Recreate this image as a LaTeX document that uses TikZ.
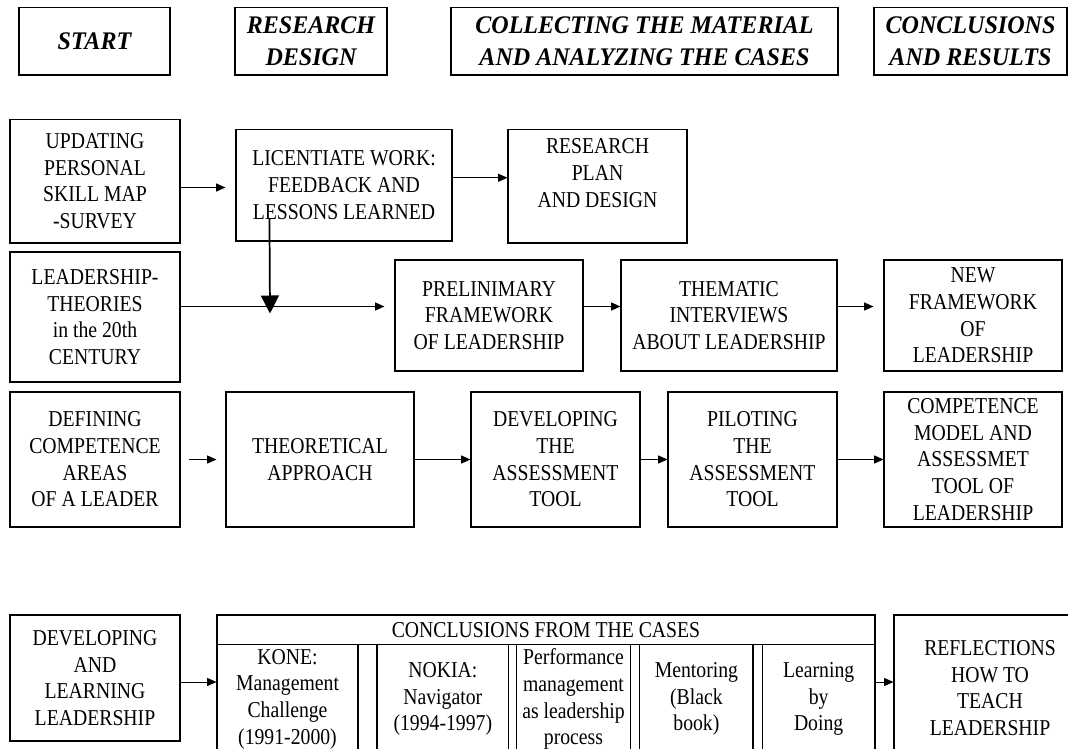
\documentclass[tikz,border=0pt]{standalone}
\usepackage{fontspec}
\setmainfont{Liberation Serif}[FakeStretch=0.87]
\newfontfamily\headfont{Liberation Serif}[FakeStretch=0.95]
\usetikzlibrary{arrows.meta,calc}

\begin{document}
\begin{tikzpicture}[x=0.75pt,y=-0.75pt,
  box/.style={draw, line width=0.8pt, inner sep=0pt, align=center, anchor=center,
    font=\fontsize{17}{20}\selectfont},
  hbox/.style={draw, line width=0.8pt, inner sep=0pt, align=center, anchor=center,
    font=\headfont\bfseries\itshape\fontsize{19}{24}\selectfont},
  sz/.style 2 args={minimum width=#1*0.75pt, minimum height=#2*0.75pt},
  arr/.style={line width=0.75pt, -{Triangle[length=7pt,width=6pt]}},
  bigarr/.style={line width=1.3pt, -{Triangle[length=13.5pt,width=13.5pt]}},
]
\useasboundingbox (0,0) rectangle (1068,749);
\begin{scope}
\clip (0,0) rectangle (1068,749);

% phase headings
\node[hbox, sz={151}{67.5}] (hstart) at (94.5,41.25) {START};
\node[hbox, sz={152}{67.5}] (hdesign) at (311,41.25) {RESEARCH\\DESIGN};
\node[hbox, sz={387}{67.5}] (hcollect) at (644.5,41.25) {COLLECTING THE MATERIAL\\AND ANALYZING THE CASES};
\node[hbox, sz={193}{67.5}] (hresults) at (970.5,41.25) {CONCLUSIONS\\AND RESULTS};

% first row
\node[box, sz={170}{123.5}] (upd) at (95,181.25) {UPDATING\\PERSONAL\\SKILL MAP\\-SURVEY};
\node[box, sz={216}{111.5}] (lic) at (344,185.25) {LICENTIATE WORK:\\FEEDBACK AND\\LESSONS LEARNED};
\node[box, sz={179}{113.5}] (plan) at (597.5,186.25) {RESEARCH\\PLAN\\AND DESIGN\\\mbox{}};

% second row
\node[box, sz={170}{130}] (lead) at (95,317) {LEADERSHIP-\\THEORIES\\in the 20th\\CENTURY};
\node[box, sz={188}{111}] (prelim) at (489,315.5) {PRELINIMARY\\FRAMEWORK\\OF LEADERSHIP};
\node[box, sz={216}{111}] (them) at (729,315.5) {THEMATIC\\INTERVIEWS\\ABOUT LEADERSHIP};
\node[box, sz={178}{111}] (newf) at (973,315.5) {NEW\\FRAMEWORK\\OF\\LEADERSHIP};

% third row
\node[box, sz={170}{135}] (def) at (95,459.5) {DEFINING\\COMPETENCE\\AREAS\\OF A LEADER};
\node[box, sz={188}{135}] (theo) at (320,459.5) {THEORETICAL\\APPROACH};
\node[box, sz={169}{135}] (dev) at (555.5,459.5) {DEVELOPING\\THE\\ASSESSMENT\\TOOL};
\node[box, sz={169}{135}] (pil) at (752.5,459.5) {PILOTING\\THE\\ASSESSMENT\\TOOL};
\node[box, sz={178}{135}] (comp) at (973,459.5) {COMPETENCE\\MODEL AND\\ASSESSMET\\TOOL OF\\LEADERSHIP};

% fourth row with the table of cases
\node[box, sz={170}{126}] (dal) at (95,678) {DEVELOPING\\AND\\LEARNING\\LEADERSHIP};
\node[box, sz={658}{29.4}] (chead) at (546,629.7) {CONCLUSIONS FROM THE CASES};
\node[box, sz={141}{109.6}] (kone) at (287.5,699.2) {KONE:\\Management\\Challenge\\(1991-2000)};
\node[box, sz={131.6}{109.6}] (nokia) at (442.8,699.2) {NOKIA:\\Navigator\\(1994-1997)};
\node[box, sz={114}{109.6}] (perf) at (573.5,699.2) {Performance\\management\\as leadership\\process};
\node[box, sz={113.2}{109.6}] (ment) at (696.4,699.2) {Mentoring\\(Black\\book)};
\node[box, sz={112.7}{109.6}] (learn) at (818.65,699.2) {Learning\\by\\Doing};
\node[box, sz={192}{146}] (refl) at (990,688) {REFLECTIONS\\HOW TO\\TEACH\\LEADERSHIP};

% connectors
\draw[arr, shorten >=7.5pt] ($(upd.east)+(0,6.25)$) -- ($(upd.east -| lic.west)+(0,6.25)$);
\draw[arr] ($(lic.east)+(0,-7.5)$) -- ($(lic.east -| plan.west)+(0,-7.5)$);

\draw[arr, shorten >=7.5pt] ($(prelim.west -| lead.east)+(0,-9)$) -- ($(prelim.west)+(0,-9)$);
\coordinate (vtip) at (270,313.5);
\draw[bigarr] ($(lic.south west)+(34,-23)$) -- (vtip);
\draw[arr] ($(prelim.east)+(0,-9)$) -- ($(them.west)+(0,-9)$);
\draw[arr, shorten >=7.5pt] ($(them.east)+(0,-9)$) -- ($(newf.west)+(0,-9)$);

\draw[arr, shorten <=6.5pt, shorten >=6.75pt] (def.east) -- (theo.west);
\draw[arr] (theo.east) -- (dev.west);
\draw[arr] (dev.east) -- (pil.west);
\draw[arr] (pil.east) -- (comp.west);

\draw[arr] ($(dal.east)+(0,4)$) -- ($(dal.east -| kone.west)+(0,4)$);
\draw[arr] ($(refl.west -| learn.east)+(0,-6)$) -- ($(refl.west)+(0,-6)$);
\end{scope}
\end{tikzpicture}
\end{document}
